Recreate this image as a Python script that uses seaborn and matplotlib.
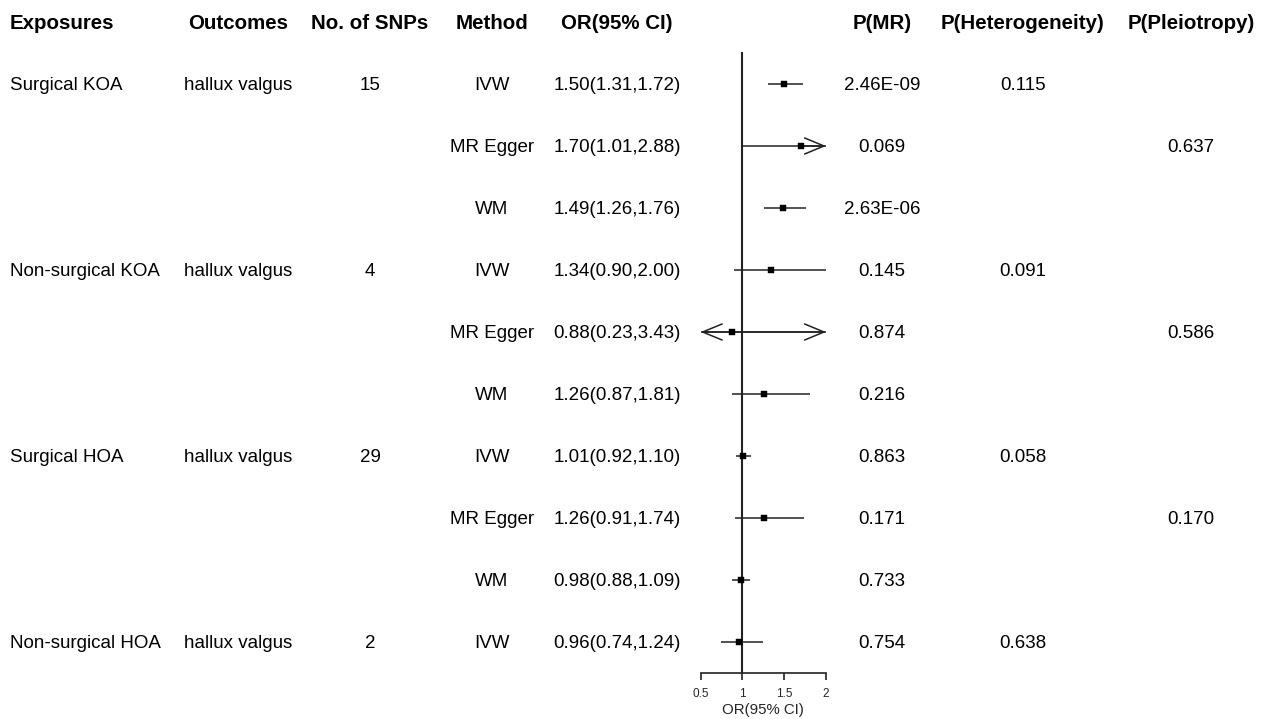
import numpy as np
import pandas as pd
import matplotlib
matplotlib.use("Agg")
import matplotlib.pyplot as plt
import matplotlib.transforms as mtransforms
import seaborn as sns

# ---------------- data ----------------
exposures = ["Surgical KOA", "", "", "Non-surgical KOA", "", "", "Surgical HOA", "", "", "Non-surgical HOA"]
outcomes = ["hallux valgus", "", "", "hallux valgus", "", "", "hallux valgus", "", "", "hallux valgus"]
n_snps = ["15", "", "", "4", "", "", "29", "", "", "2"]
methods = ["IVW", "MR Egger", "WM", "IVW", "MR Egger", "WM", "IVW", "MR Egger", "WM", "IVW"]
or_val = [1.50, 1.70, 1.49, 1.34, 0.88, 1.26, 1.01, 1.26, 0.98, 0.96]
ci_lo = [1.31, 1.01, 1.26, 0.90, 0.23, 0.87, 0.92, 0.91, 0.88, 0.74]
ci_hi = [1.72, 2.88, 1.76, 2.00, 3.43, 1.81, 1.10, 1.74, 1.09, 1.24]
p_mr = ["2.46E-09", "0.069", "2.63E-06", "0.145", "0.874", "0.216", "0.863", "0.171", "0.733", "0.754"]
p_het = ["0.115", "", "", "0.091", "", "", "0.058", "", "", "0.638"]
p_pleio = ["", "0.637", "", "", "0.586", "", "", "0.170", "", ""]
headers = ["Exposures", "Outcomes", "No. of SNPs", "Method", "OR(95% CI)",
           "P(MR)", "P(Heterogeneity)", "P(Pleiotropy)"]
x_ticks = [0.5, 1, 1.5, 2]
x_label = "OR(95% CI)"

or_text = [f"{o:.2f}({l:.2f},{h:.2f})" for o, l, h in zip(or_val, ci_lo, ci_hi)]
df = pd.DataFrame({"row": np.arange(len(or_val)), "OR": or_val, "lo": ci_lo, "hi": ci_hi})

# ---------------- figure ----------------
sns.set_theme(style="white")
plt.rcParams["font.family"] = ["Liberation Sans", "DejaVu Sans"]

W, H = 1266, 719
fig = plt.figure(figsize=(W / 100, H / 100), dpi=100)

def fx(px):
    return px / W

def fy(py):
    return 1 - py / H

x_lo_px, x_hi_px = 700.7, 826.0
top_px, bot_px = 52, 673
ax = fig.add_axes([fx(x_lo_px), fy(bot_px), fx(x_hi_px - x_lo_px), (bot_px - top_px) / H])
ax.set_xlim(0.5, 2)
ax.set_ylim(9.5, -0.516)
ax.patch.set_alpha(0)

line_col = "#222222"
xmin, xmax = 0.5, 2.0

# reference line
ax.axvline(1, color=line_col, lw=1.5, zorder=1)

# CI lines + arrows
for _, r in df.iterrows():
    lo_c = max(r.lo, xmin)
    hi_c = min(r.hi, xmax)
    ax.hlines(r.row, lo_c, hi_c, color=line_col, lw=1.1, zorder=2, clip_on=False)
    aprops = dict(arrowstyle="->,head_length=1.4,head_width=0.58", mutation_scale=10,
                  color=line_col, lw=1.1, shrinkA=0, shrinkB=0)
    if r.hi > xmax:
        ax.annotate("", xy=(xmax, r.row), xytext=(max(r.OR, lo_c), r.row),
                    arrowprops=aprops, annotation_clip=False)
    if r.lo < xmin:
        ax.annotate("", xy=(xmin, r.row), xytext=(min(r.OR, hi_c), r.row),
                    arrowprops=aprops, annotation_clip=False)

sns.scatterplot(data=df, x="OR", y="row", marker="s", s=15, color="black",
                linewidth=0.3, edgecolor="black", ax=ax, zorder=3, clip_on=False, legend=False)

ax.set_xticks(x_ticks)
ax.set_xticklabels([f"{t:g}" for t in x_ticks], fontsize=8.5)
ax.set_yticks([])
ax.set_ylabel("")
ax.set_xlabel(x_label, fontsize=10.8, labelpad=2)
for s in ["left", "right", "top"]:
    ax.spines[s].set_visible(False)
ax.spines["bottom"].set_color(line_col)
ax.spines["bottom"].set_linewidth(1.2)
ax.spines["bottom"].set_bounds(0.5, 2)
ax.tick_params(axis="x", length=5, width=1.2, color=line_col, pad=6, bottom=True, direction="out")

# ---------------- text table ----------------
trans = mtransforms.blended_transform_factory(fig.transFigure, ax.transData) + \
    mtransforms.ScaledTranslation(0, -2 / 100, fig.dpi_scale_trans)
cols = [
    (10, "left", exposures),
    (238, "center", outcomes),
    (370, "center", n_snps),
    (492, "center", methods),
    (617, "center", or_text),
    (882, "center", p_mr),
    (1023, "center", p_het),
    (1191, "center", p_pleio),
]
fs = 13.5
for (xp, ha, vals), hdr in zip(cols, headers):
    fig.text(fx(xp), fy(23.5), hdr, ha=ha, va="center", fontsize=14.8, fontweight="bold", color="black")
    for i, v in enumerate(vals):
        if v:
            fig.text(fx(xp), 0, v, ha=ha, va="center", fontsize=fs, color="black",
                     transform=trans).set_y(i)

fig.savefig("out.png", dpi=100)
